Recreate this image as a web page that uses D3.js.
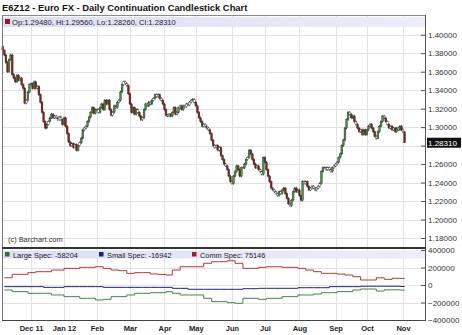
<!DOCTYPE html>
<html>
<head>
<meta charset="utf-8">
<script src="https://cdn.jsdelivr.net/npm/d3@7"></script>
<style>
  body { margin: 0; background: #fff; }
  svg { display: block; font-family: "Liberation Sans", Arial, sans-serif; }
</style>
</head>
<body>
<svg id="chart" width="462" height="335"></svg>
<script>
// ---- data ----
const holidays = ["2011-12-26", "2012-01-02", "2012-04-06"];
const firstOpen = 1.3870;
const lastBar = {o: 1.2948, h: 1.2956, l: 1.2826, c: 1.2831};

const closeNov11 = [1.383,1.378,1.370,1.360,1.373,1.378,1.357,1.353,1.349,1.356,1.351,1.353,1.346,1.342,1.326,1.329,1.338,1.346];
const closeDec11 = [1.347,1.342,1.349,1.342,1.344,1.335,1.327,1.316,1.306,1.299,1.303,1.306,1.310,1.314,1.310,1.312,1.310,1.308,1.311,1.308,1.303];
const closeJan12 = [1.310,1.301,1.293,1.284,1.280,1.282,1.278,1.281,1.275,1.280,1.283,1.288,1.297,1.299,1.301,1.306,1.311,1.316,1.321,1.315,1.319];
const closeFeb12 = [1.319,1.316,1.321,1.325,1.319,1.329,1.325,1.329,1.319,1.313,1.316,1.323,1.321,1.327,1.329,1.338,1.346,1.349,1.347,1.345,1.336];
const closeMar12 = [1.325,1.316,1.321,1.314,1.319,1.316,1.312,1.308,1.310,1.319,1.325,1.323,1.327,1.325,1.329,1.331,1.335,1.333,1.335,1.331,1.329,1.325];
const closeApr12 = [1.319,1.313,1.312,1.314,1.312,1.316,1.321,1.314,1.316,1.321,1.323,1.319,1.323,1.322,1.325,1.324,1.327,1.329,1.330,1.327];
const closeMay12 = [1.323,1.316,1.310,1.306,1.301,1.303,1.301,1.299,1.297,1.293,1.286,1.280,1.278,1.280,1.275,1.278,1.269,1.265,1.260,1.258,1.254,1.247,1.241];
const closeJun12 = [1.239,1.247,1.252,1.258,1.254,1.247,1.256,1.256,1.260,1.265,1.267,1.275,1.271,1.265,1.260,1.256,1.258,1.254,1.252,1.249,1.267];
const closeJul12 = [1.262,1.254,1.247,1.241,1.234,1.232,1.230,1.228,1.226,1.230,1.228,1.232,1.234,1.228,1.223,1.217,1.215,1.221,1.230,1.234,1.230,1.232];
const closeAug12 = [1.226,1.221,1.241,1.239,1.241,1.236,1.232,1.234,1.236,1.234,1.232,1.234,1.236,1.239,1.252,1.256,1.256,1.254,1.256,1.254,1.252,1.256,1.258];
const closeSep12 = [1.260,1.262,1.267,1.271,1.280,1.286,1.299,1.308,1.316,1.314,1.310,1.312,1.306,1.303,1.299,1.295,1.297,1.292,1.297,1.292];
const closeOct12 = [1.297,1.301,1.303,1.299,1.295,1.290,1.288,1.295,1.301,1.306,1.312,1.310,1.306,1.303,1.299,1.301,1.297,1.299,1.295,1.299,1.297,1.301,1.297];
const closeNov12 = [1.2948, 1.2831];

// weekly COT positions (Tuesdays, 8 Nov 2011 .. 30 Oct 2012)
const cotComm = [83000,122000,122000,141000,152000,152000,171000,171000,190000,190000,202000,202000,209000,190000,171000,164000,
  133000,141000,141000,126000,120000,114000,171000,209000,209000,209000,248000,266000,266000,277000,248000,190000,190000,202000,
  209000,209000,202000,202000,190000,171000,152000,133000,133000,125000,114000,95000,57000,57000,83000,65000,77000,75146];
const cotLarge = [-57000,-76000,-76000,-95000,-95000,-95000,-114000,-114000,-133000,-133000,-152000,-152000,-171000,-164000,-133000,-133000,
  -114000,-95000,-95000,-88000,-88000,-76000,-95000,-114000,-114000,-114000,-152000,-190000,-190000,-202000,-209000,-152000,-152000,-164000,
  -152000,-152000,-133000,-133000,-114000,-114000,-103000,-88000,-88000,-76000,-76000,-57000,-46000,-46000,-69000,-55000,-55000,-58204];
const cotSmall = [-19000,-19000,-19000,-19000,-19000,-27000,-27000,-27000,-19000,-19000,-19000,-19000,-19000,-27000,-27000,-27000,
  -27000,-27000,-27000,-27000,-27000,-27000,-38000,-38000,-49000,-49000,-49000,-49000,-49000,-49000,-49000,-42000,-42000,-38000,
  -38000,-38000,-38000,-38000,-31000,-31000,-31000,-31000,-19000,-19000,-19000,-19000,-14000,-14000,-14000,-14000,-14000,-16942];

const priceTicks = [1.18,1.20,1.22,1.24,1.26,1.28,1.30,1.32,1.34,1.36,1.38,1.40];
const cotTicks = [400000, 200000, 0, -200000, -400000];
const monthLabels = ["Dec 11","Jan 12","Feb","Mar","Apr","May","Jun","Jul","Aug","Sep","Oct","Nov"];

// ---- build bars ----
const fmtDay = d3.timeFormat("%Y-%m-%d");
const days = d3.timeDay.range(new Date(2011, 10, 7), new Date(2012, 10, 3))
  .filter(d => d.getDay() % 6 !== 0 && holidays.indexOf(fmtDay(d)) < 0);
const closes = [].concat(closeNov11, closeDec11, closeJan12, closeFeb12, closeMar12, closeApr12,
  closeMay12, closeJun12, closeJul12, closeAug12, closeSep12, closeOct12, closeNov12);
const n = Math.min(days.length, closes.length);
const wickPad = 0.0013;
const bars = [];
for (let i = 0; i < n; i++) {
  let o = i === 0 ? firstOpen : closes[i - 1];
  let c = closes[i];
  let b = {i: i, o: o, c: c, h: Math.max(o, c) + wickPad, l: Math.min(o, c) - wickPad};
  if (i === n - 1) b = {i: i, o: lastBar.o, c: lastBar.c, h: lastBar.h, l: lastBar.l};
  bars.push(b);
}

// ---- layout ----
const svg = d3.select("#chart");
const left = 2, right = 425;
const mainTop = 15, mainBottom = 248, cotTop = 249, cotBottom = 320;

const x = d3.scaleLinear().domain([-0.5, 269]).range([left, right]);
const y = d3.scaleLinear().domain([1.18, 1.40]).range([238, 34.7]);
const yc = d3.scaleLinear().domain([-400000, 400000]).range([cotBottom, 250]);

// month starts
const monthStarts = [];
days.slice(0, n).forEach((d, i) => {
  if (i > 0 && d.getMonth() !== days[i - 1].getMonth()) monthStarts.push(i);
});

const grid = svg.append("g").attr("stroke", "#e2e2e2").attr("stroke-width", 1);
grid.selectAll(".hg").data(priceTicks).enter().append("line")
  .attr("x1", left).attr("x2", right)
  .attr("y1", d => Math.round(y(d)) + 0.5).attr("y2", d => Math.round(y(d)) + 0.5);
grid.selectAll(".vg").data(monthStarts).enter().append("line")
  .attr("x1", d => Math.round(x(d)) + 0.5).attr("x2", d => Math.round(x(d)) + 0.5)
  .attr("y1", mainTop).attr("y2", mainBottom);
grid.selectAll(".vg2").data(monthStarts).enter().append("line")
  .attr("x1", d => Math.round(x(d)) + 0.5).attr("x2", d => Math.round(x(d)) + 0.5)
  .attr("y1", cotTop).attr("y2", cotBottom);
grid.selectAll(".hg2").data([200000, 0, -200000]).enter().append("line")
  .attr("x1", left).attr("x2", right)
  .attr("y1", d => Math.round(yc(d)) + 0.5).attr("y2", d => Math.round(yc(d)) + 0.5);

// legend bands
const grad = svg.append("defs").append("linearGradient").attr("id", "band");
grad.append("stop").attr("offset", "0%").attr("stop-color", "#dedef6");
grad.append("stop").attr("offset", "100%").attr("stop-color", "#ececfa");
svg.append("rect").attr("x", left).attr("y", 17).attr("width", right - left).attr("height", 10).attr("fill", "url(#band)");
svg.append("rect").attr("x", left).attr("y", 250.5).attr("width", right - left).attr("height", 8).attr("fill", "url(#band)");

// candles
const candles = svg.append("g");
const candleColor = b => Math.abs(b.c - b.o) < 0.0035 ? "#ffffff" : (b.c > b.o ? "#3c9a3c" : "#8c1d16");
candles.selectAll("line").data(bars).enter().append("line")
  .attr("x1", b => x(b.i)).attr("x2", b => x(b.i))
  .attr("y1", b => y(b.h)).attr("y2", b => y(b.l))
  .attr("stroke", "#222").attr("stroke-width", 0.8);
candles.selectAll("rect").data(bars).enter().append("rect")
  .attr("x", b => x(b.i) - 0.9).attr("width", 1.8)
  .attr("y", b => y(Math.max(b.o, b.c)))
  .attr("height", b => Math.max(0.8, Math.abs(y(b.o) - y(b.c))))
  .attr("fill", candleColor)
  .attr("stroke", "#333").attr("stroke-width", 0.4);

// COT step lines
const cotDates = d3.timeTuesday.range(new Date(2011, 10, 8), new Date(2012, 10, 1));
const cotIdx = cotDates.map(d => d3.bisectLeft(days, d));
function cotPoints(vals) {
  const pts = cotIdx.map((ix, k) => [ix, vals[k]]);
  pts.push([n - 1, vals[vals.length - 1]]);
  return pts;
}
const cotLine = d3.line().x(p => x(p[0])).y(p => yc(p[1])).curve(d3.curveStepAfter);
[[cotComm, "#b23a3a"], [cotSmall, "#23237a"], [cotLarge, "#3f883f"]].forEach(s => {
  svg.append("path").datum(cotPoints(s[0])).attr("d", cotLine)
    .attr("fill", "none").attr("stroke", s[1]).attr("stroke-width", 1);
});

// frames
svg.append("line").attr("x1", left).attr("x2", right).attr("y1", mainTop + 0.5).attr("y2", mainTop + 0.5).attr("stroke", "#8a8a8a");
svg.append("line").attr("x1", left + 0.5).attr("x2", left + 0.5).attr("y1", mainTop).attr("y2", cotBottom).attr("stroke", "#777");
svg.append("line").attr("x1", right + 0.5).attr("x2", right + 0.5).attr("y1", mainTop).attr("y2", cotBottom).attr("stroke", "#555");
svg.append("line").attr("x1", left).attr("x2", right + 1).attr("y1", mainBottom).attr("y2", mainBottom).attr("stroke", "#333").attr("stroke-width", 2);
svg.append("line").attr("x1", left).attr("x2", right + 1).attr("y1", cotBottom + 0.5).attr("y2", cotBottom + 0.5).attr("stroke", "#444");

// right axes
const lastY = y(lastBar.c);
const priceAxis = svg.append("g").attr("transform", "translate(" + right + ",0)")
  .call(d3.axisRight(y).tickValues(priceTicks).tickFormat(d3.format(".5f")).tickSizeInner(-4).tickSizeOuter(0).tickPadding(3));
const cotAxis = svg.append("g").attr("transform", "translate(" + right + ",0)")
  .call(d3.axisRight(yc).tickValues(cotTicks).tickFormat(d3.format("d")).tickSizeInner(-4).tickSizeOuter(0).tickPadding(3));
[priceAxis, cotAxis].forEach(a => {
  a.select(".domain").remove();
  a.selectAll("line").attr("stroke", "#555");
  a.selectAll("text").attr("font-size", "8px").attr("fill", "#333")
    .attr("font-family", "Liberation Sans, Arial, sans-serif");
});
// the last-price tag sits over the nearest tick label
priceAxis.selectAll(".tick").filter(d => Math.abs(y(d) - lastY) < 9).select("text").remove();

// last price tag
svg.append("rect").attr("x", 427).attr("y", lastY - 5).attr("width", 34).attr("height", 10).attr("fill", "#111");
svg.append("text").attr("x", 428).attr("y", lastY + 3).attr("font-size", "8px").attr("fill", "#fff")
  .text(d3.format(".5f")(lastBar.c));

// month labels
svg.append("g").selectAll("text").data(monthStarts.slice(0, monthLabels.length)).enter().append("text")
  .attr("x", d => x(d) + 0.5).attr("y", 331)
  .attr("text-anchor", "middle").attr("font-size", "7.5px").attr("font-weight", "bold").attr("fill", "#222")
  .text((d, k) => monthLabels[k]);

// title and legends
svg.append("text").attr("x", 2).attr("y", 11).attr("font-size", "9.4px").attr("font-weight", "bold").attr("fill", "#111")
  .text("E6Z12 - Euro FX - Daily Continuation Candlestick Chart");

svg.append("rect").attr("x", 5).attr("y", 19).attr("width", 5).attr("height", 5).attr("fill", "#a01818");
svg.append("text").attr("x", 12).attr("y", 25).attr("font-size", "7.6px").attr("fill", "#222")
  .text("Op:" + d3.format(".5f")(lastBar.o) + ", Hi:" + d3.format(".5f")(lastBar.h) +
        ", Lo:" + d3.format(".5f")(lastBar.l) + ", Cl:" + d3.format(".5f")(lastBar.c));

svg.append("text").attr("x", 8).attr("y", 242).attr("font-size", "7.4px").attr("fill", "#333").text("(c) Barchart.com");

const cotLegend = [
  {name: "Large Spec: ", v: cotLarge[cotLarge.length - 1], color: "#2e6e2e", x: 5},
  {name: "Small Spec: ", v: cotSmall[cotSmall.length - 1], color: "#1c1c7a", x: 99},
  {name: "Comm Spec: ", v: cotComm[cotComm.length - 1], color: "#a02020", x: 192}
];
const lg = svg.append("g").selectAll("g").data(cotLegend).enter().append("g");
lg.append("rect").attr("x", d => d.x).attr("y", 252).attr("width", 4.5).attr("height", 4.5).attr("fill", d => d.color);
lg.append("text").attr("x", d => d.x + 8).attr("y", 258).attr("font-size", "7.4px").attr("fill", "#222")
  .text(d => d.name + d.v);
</script>
</body>
</html>
